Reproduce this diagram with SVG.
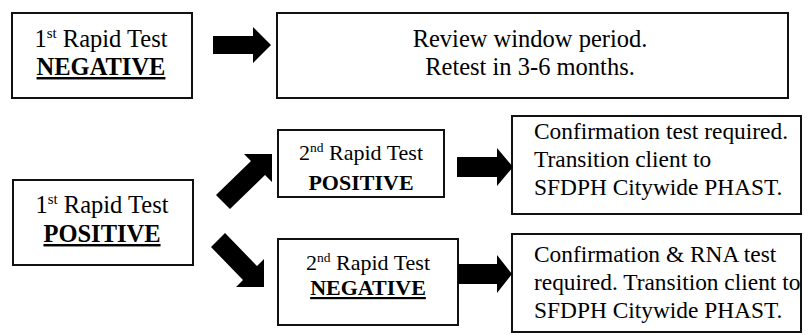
<svg xmlns="http://www.w3.org/2000/svg" width="808" height="335" viewBox="0 0 808 335">
<style>
.box{fill:#fff;stroke:#111;stroke-width:2}
.big{font-size:24.5px}
.sm{font-size:22px}
.rt{font-size:23.4px}
.c{text-anchor:middle}
.b{font-weight:bold}
.u{text-decoration:underline}
.arrow{fill:#000}
</style>
<rect width="808" height="335" fill="#fff"/>
<g font-family="Liberation Serif, Times New Roman, serif" fill="#000">
<g id="n1">
<rect class="box" x="12" y="13" width="180" height="85"/>
<text class="big c" x="101" y="47">1<tspan font-size="15" dy="-9">st</tspan><tspan dy="9"> Rapid Test</tspan></text>
<text class="big c b u" x="101" y="75">NEGATIVE</text>
</g>
<g id="n2">
<rect class="box" x="277" y="13" width="511" height="85"/>
<text class="big c" x="530" y="47">Review window period.</text>
<text class="big c" x="530" y="75">Retest in 3-6 months.</text>
</g>
<g id="n3">
<rect class="box" x="13" y="180" width="180" height="85"/>
<text class="big c" x="102" y="213">1<tspan font-size="15" dy="-9">st</tspan><tspan dy="9"> Rapid Test</tspan></text>
<text class="big c b u" x="102" y="242">POSITIVE</text>
</g>
<g id="n4">
<rect class="box" x="278" y="130" width="166" height="67"/>
<text class="sm c" x="361" y="160">2<tspan font-size="13.5" dy="-8">nd</tspan><tspan dy="8"> Rapid Test</tspan></text>
<text class="sm c b" x="361" y="190">POSITIVE</text>
</g>
<g id="n5">
<rect class="box" x="278" y="239" width="180" height="86"/>
<text class="sm c" x="368" y="270">2<tspan font-size="13.5" dy="-8">nd</tspan><tspan dy="8"> Rapid Test</tspan></text>
<text class="sm c b u" x="368" y="295">NEGATIVE</text>
</g>
<g id="n6">
<rect class="box" x="512" y="116" width="289" height="98"/>
<text class="rt" x="534" y="139">Confirmation test required.</text>
<text class="rt" x="534" y="167">Transition client to</text>
<text class="rt" x="534" y="195">SFDPH Citywide PHAST.</text>
</g>
<g id="n7">
<rect class="box" x="512" y="234" width="289" height="98"/>
<text class="rt" x="534" y="262">Confirmation &amp; RNA test</text>
<text class="rt" x="534" y="290">required. Transition client to</text>
<text class="rt" x="534" y="318">SFDPH Citywide PHAST.</text>
</g>
</g>
<g id="connectors">
<polygon class="arrow" points="213,36 253,36 253,27 271,45 253,63 253,54 213,54"/>
<polygon class="arrow" points="216,195 251,161 244,154 272,154 272,182 265,175 230,209"/>
<polygon class="arrow" points="225,233 257,266 264,259 264,287 236,287 243,280 211,247"/>
<polygon class="arrow" points="457,157 497,157 497,148 513,167 497,186 497,177 457,177"/>
<polygon class="arrow" points="458,264 497,264 497,255 512,274 497,293 497,284 458,284"/>
</g>
</svg>
